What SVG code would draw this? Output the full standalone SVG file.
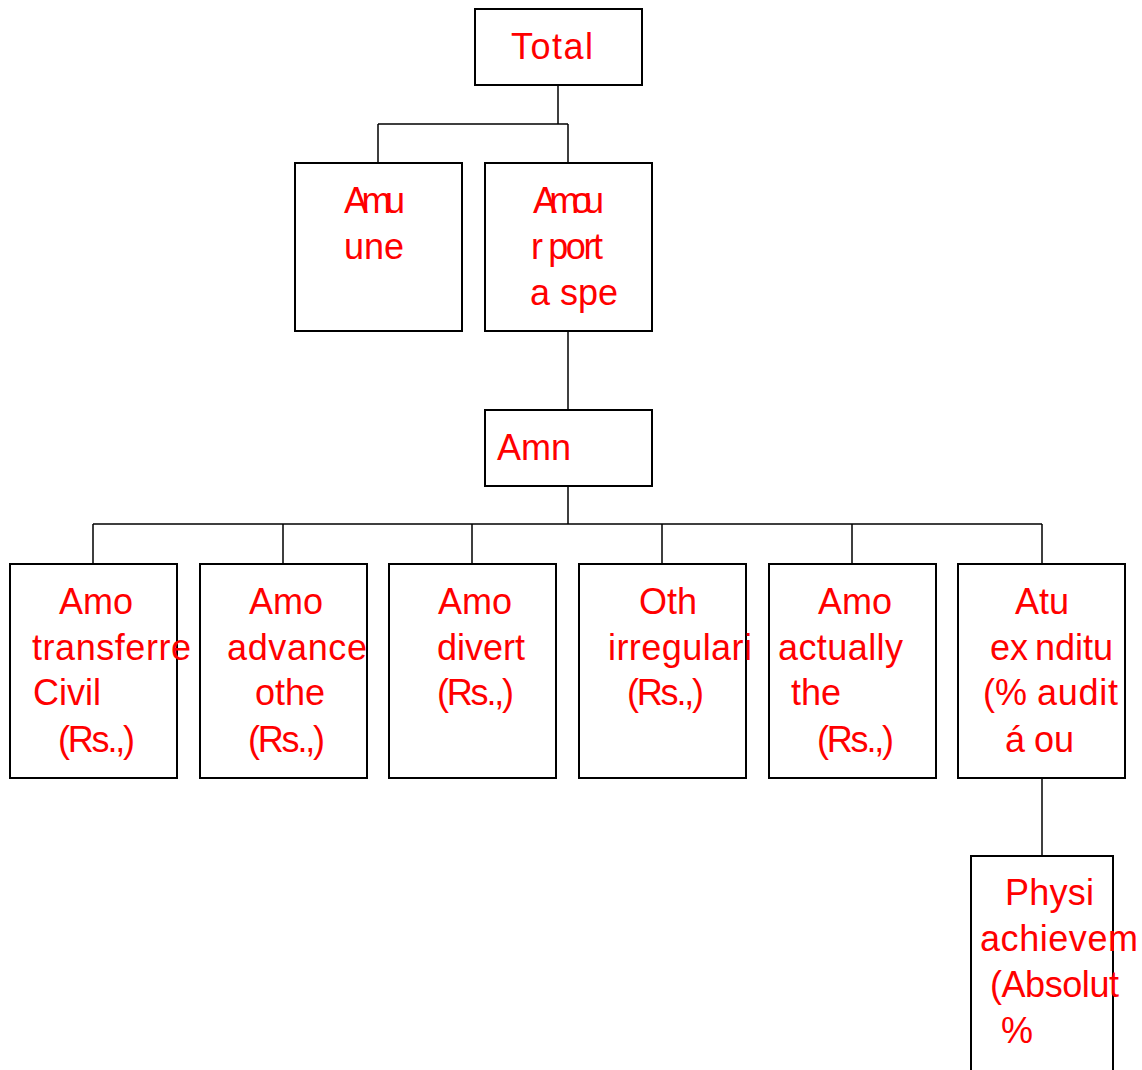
<svg xmlns="http://www.w3.org/2000/svg" width="1142" height="1070" viewBox="0 0 1142 1070">
<style>
.box{fill:#fff;stroke:#000;stroke-width:2}
.ln{fill:none;stroke:#000;stroke-width:1.5}
text{font-family:"Liberation Sans",Arial,sans-serif;font-size:36px;fill:#ff0000}
</style>
<rect width="1142" height="1070" fill="#fff"/>
<g id="connectors">
<path class="ln" d="M558 85V124M378 124H568M378 124V163M568 124V163"/>
<path class="ln" d="M568 331V410"/>
<path class="ln" d="M568 486V524M93 524H1042M93 524V564M283 524V564M472 524V564M662 524V564M852 524V564M1042 524V564"/>
<path class="ln" d="M1042 778V856"/>
</g>
<g id="n-total"><rect class="box" x="475" y="9" width="167" height="76"/><text x="511" y="59" textLength="82">Total</text></g>
<g id="n-amu"><rect class="box" x="295" y="163" width="167" height="168"/><text x="344" y="213" textLength="61">Amu</text><text x="344" y="259">une</text></g>
<g id="n-amou"><rect class="box" x="485" y="163" width="167" height="168"/><text x="533" y="213" textLength="71">Amou</text><text x="531" y="259" textLength="72">r port</text><text x="530" y="305">a spe</text></g>
<g id="n-amn"><rect class="box" x="485" y="410" width="167" height="76"/><text x="497" y="460">Amn</text></g>
<g id="n-b1"><rect class="box" x="10" y="564" width="167" height="214"/><text x="59" y="614">Amo</text><text x="32" y="660" textLength="159">transferre</text><text x="33" y="705">Civil</text><text x="58" y="752" textLength="77">(Rs.,)</text></g>
<g id="n-b2"><rect class="box" x="200" y="564" width="167" height="214"/><text x="249" y="614">Amo</text><text x="227" y="660" textLength="140">advance</text><text x="255" y="705">othe</text><text x="248" y="752" textLength="77">(Rs.,)</text></g>
<g id="n-b3"><rect class="box" x="389" y="564" width="167" height="214"/><text x="438" y="614">Amo</text><text x="437" y="660">divert</text><text x="437" y="705" textLength="77">(Rs.,)</text></g>
<g id="n-b4"><rect class="box" x="579" y="564" width="167" height="214"/><text x="639" y="614">Oth</text><text x="608" y="660" textLength="144">irregulari</text><text x="627" y="705" textLength="77">(Rs.,)</text></g>
<g id="n-b5"><rect class="box" x="769" y="564" width="167" height="214"/><text x="818" y="614">Amo</text><text x="778" y="660" textLength="125">actually</text><text x="791" y="705">the</text><text x="817" y="752" textLength="77">(Rs.,)</text></g>
<g id="n-b6"><rect class="box" x="958" y="564" width="167" height="214"/><text x="1015" y="614">Atu</text><text x="990" y="660">ex</text><text x="1035" y="660" textLength="78">nditu</text><text x="983" y="705">(%</text><text x="1037" y="705" textLength="81">audit</text><text x="1005" y="752">á</text><text x="1034" y="752">ou</text></g>
<g id="n-physi"><rect class="box" x="971" y="856" width="142" height="216"/><text x="1005" y="905" textLength="89">Physi</text><text x="980" y="951" textLength="158">achievem</text><text x="990" y="997" textLength="129">(Absolut</text><text x="1001" y="1043">%</text></g>
</svg>
